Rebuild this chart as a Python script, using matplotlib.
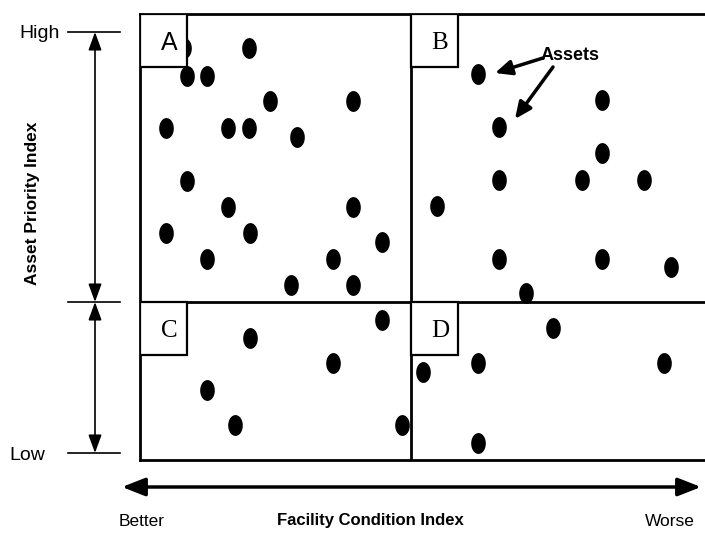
import numpy as np
import matplotlib
matplotlib.use('Agg')
import matplotlib.pyplot as plt
from matplotlib.patches import Rectangle
from matplotlib.path import Path

plt.rcParams['font.family'] = ['Liberation Sans', 'DejaVu Sans']

# asset positions (x = condition, y = priority, box units)
fci_a = [44, 109, 47, 67, 130, 213, 26, 88, 109, 157, 47, 88, 213, 26, 110, 242, 67, 193, 151, 213]
api_a = [412, 412, 384, 384, 359, 359, 332, 332, 332, 323, 279, 253, 253, 227, 227, 218, 201, 201, 175, 175]
fci_b = [338, 359, 462, 462, 359, 442, 504, 297, 359, 462, 531, 386]
api_b = [386, 333, 360, 307, 280, 280, 280, 254, 201, 201, 193, 167]
fci_c = [242, 110, 193, 67, 95, 262]
api_c = [140, 122, 97, 70, 35, 35]
fci_d = [413, 338, 283, 524, 338]
api_d = [132, 97, 88, 97, 17]

quadrants = ['A', 'B', 'C', 'D']
x_labels = ['Better', 'Facility Condition Index', 'Worse']
y_labels = ['High', 'Low']
y_title = 'Asset Priority Index'
note = 'Assets'

W, H = 705, 534
fig = plt.figure(figsize=(W / 100, H / 100), dpi=100)

# overlay in pixel units for the outside annotations
ov = fig.add_axes([0, 0, 1, 1])
ov.set_xlim(0, W)
ov.set_ylim(H, 0)
ov.axis('off')

# main box
ax = fig.add_axes([140 / W, (H - 460) / H, 580 / W, 446 / H])
ax.set_xlim(0, 580)
ax.set_ylim(0, 446)
ax.set_xticks([])
ax.set_yticks([])
for s in ax.spines.values():
    s.set_linewidth(2)
xmid, ymid = 271, 158
ax.axvline(xmid, color='black', lw=2, zorder=1)
ax.axhline(ymid, color='black', lw=2, zorder=1)

# elliptical dot marker
t = np.linspace(0, 2 * np.pi, 40)
ell = Path(np.column_stack([0.34 * np.cos(t), 0.5 * np.sin(t)]))
for fx, ay in [(fci_a, api_a), (fci_b, api_b), (fci_c, api_c), (fci_d, api_d)]:
    ax.plot(fx, ay, ls='none', marker=ell, markersize=14, color='black', zorder=2)

# quadrant label boxes
boxes = [(0, 393), (xmid, 393), (0, 105), (xmid, 105)]
fams = ['Liberation Sans', 'Liberation Serif', 'Liberation Serif', 'Liberation Serif']
for lab, (bx, by), fam in zip(quadrants, boxes, fams):
    ax.add_patch(Rectangle((bx, by), 47, 53, facecolor='white', edgecolor='black', lw=1.6, zorder=3))
    ax.text(bx + 29, by + 24, lab, ha='center', va='center', fontsize=18, family=fam, zorder=4)

# "Assets" callout
ax.text(430, 405, note, ha='center', va='center', fontsize=13, fontweight='bold', zorder=4)
arr = dict(arrowstyle='-|>,head_length=1.0,head_width=0.45', lw=2.5, color='black', shrinkA=0, shrinkB=0)
ax.annotate('', xy=(355, 387), xytext=(403, 402), arrowprops=arr)
ax.annotate('', xy=(375, 341), xytext=(413, 393), arrowprops=arr)

# priority scale on the left
for yy in [32, 302, 453]:
    ov.plot([68, 120], [yy, yy], color='black', lw=1.2)
va = dict(arrowstyle='<|-|>,head_length=1.1,head_width=0.4', lw=1.2, color='black', shrinkA=0, shrinkB=0)
ov.annotate('', xy=(95, 32), xytext=(95, 302), arrowprops=va)
ov.annotate('', xy=(95, 302), xytext=(95, 453), arrowprops=va)
ov.text(40, 33, y_labels[0], ha='center', va='center', fontsize=14)
ov.text(27, 455, y_labels[1], ha='center', va='center', fontsize=14)
ov.text(33, 203, y_title, ha='center', va='center', rotation=90, fontsize=12.5, fontweight='bold')

# condition scale at the bottom
ha_ = dict(arrowstyle='<|-|>,head_length=1.4,head_width=0.55', lw=2.5, color='black', shrinkA=0, shrinkB=0)
ov.annotate('', xy=(122, 487), xytext=(701, 487), arrowprops=ha_)
ov.text(142, 521, x_labels[0], ha='center', va='center', fontsize=12.5)
ov.text(370, 521, x_labels[1], ha='center', va='center', fontsize=12, fontweight='bold')
ov.text(645, 521, x_labels[2], ha='left', va='center', fontsize=12.5)

plt.savefig('out.png', dpi=100)
